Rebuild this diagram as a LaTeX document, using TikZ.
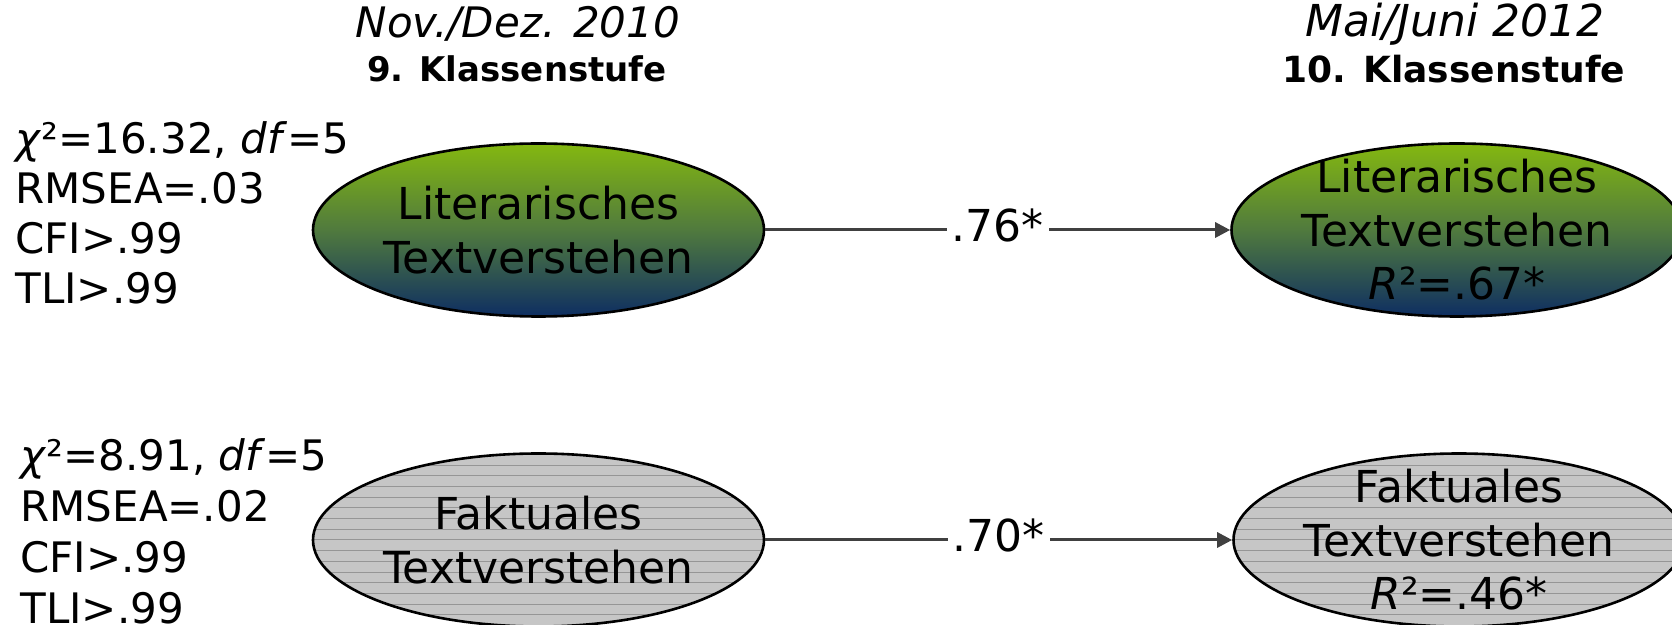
\documentclass[tikz,border=0pt]{standalone}
\usepackage{fontspec}
\setmainfont{DejaVu Sans}
\usetikzlibrary{arrows.meta,shapes.geometric}
\definecolor{gtop}{RGB}{132,184,16}
\definecolor{gmid}{RGB}{80,122,62}
\definecolor{gbot}{RGB}{14,46,98}
\definecolor{greyfill}{RGB}{198,198,198}
\definecolor{greyline}{RGB}{150,150,150}
\definecolor{arrowcol}{RGB}{64,64,64}
\begin{document}
\begin{tikzpicture}[x=0.5pt,y=-0.5pt,
  latent/.style={ellipse, draw=black, line width=1.3pt, minimum width=225.5pt,
    minimum height=86.5pt, inner sep=0pt},
  lit/.style={latent, top color=gtop, bottom color=gbot, middle color=gmid},
  fakt/.style={latent, fill=greyfill, path picture={
      \foreach \k in {-9,...,9}
        \draw[greyline, line width=0.5pt]
          ([yshift=\k*5.35pt]path picture bounding box.west) --
          ([yshift=\k*5.35pt]path picture bounding box.east);}},
  intext/.style={font=\fontsize{22pt}{26.75pt}\selectfont, align=center, inner sep=0pt},
  stats/.style={font=\fontsize{21pt}{25pt}\selectfont, align=left, anchor=north west, inner sep=0pt},
  effect/.style={draw=arrowcol, line width=1.5pt, -{Triangle[length=7.5pt,width=7.5pt]}},
  coef/.style={fill=white, font=\fontsize{22pt}{26pt}\selectfont, anchor=base,
    yshift=-6pt, inner xsep=2.5pt, inner ysep=3pt},
  hdr/.style={anchor=base, inner sep=0pt}
]
\useasboundingbox (0,0) rectangle (1672,625);
\clip (0,0) rectangle (1672,625);

% headers
\node[hdr, font=\fontsize{21pt}{25pt}\selectfont\itshape] (t1) at (518,38) {Nov./Dez. 2010};
\node[hdr, font=\fontsize{17pt}{20pt}\selectfont\bfseries] (k1) at (517,82) {9. Klassenstufe};
\node[hdr, font=\fontsize{22pt}{25pt}\selectfont\itshape] (t2) at (1455,37) {Mai/Juni 2012};
\node[hdr, font=\fontsize{18pt}{20pt}\selectfont\bfseries] (k2) at (1454,83) {10. Klassenstufe};

% fit statistics
\node[stats] (fit1) at (15,121) {\textit{χ}²=16.32, \textit{df}=5\\RMSEA=.03\\CFI>.99\\TLI>.99};
\node[stats, font=\fontsize{21pt}{25.5pt}\selectfont] (fit2) at (20,438) {\textit{χ}²=8.91, \textit{df}=5\\RMSEA=.02\\CFI>.99\\TLI>.99};

% latent variables
\node[lit] (L1) at (538.5,230) {};
\node[lit] (R1) at (1457,230) {};
\node[fakt] (L2) at (538.5,540) {};
\node[fakt] (R2) at (1459,540) {};

\node[intext] (L1t) at (L1.center) {Literarisches\\Textverstehen};
\node[intext] (R1t) at (R1.center) {Literarisches\\Textverstehen\\\textit{R}²=.67*};
\node[intext] (L2t) at (L2.center) {Faktuales\\Textverstehen};
\node[intext] (R2t) at (R2.center) {Faktuales\\Textverstehen\\\textit{R}²=.46*};

% paths
\draw[effect] (L1) -- node[coef, midway] (c1) {.76*} (R1);
\draw[effect] (L2) -- node[coef, midway] (c2) {.70*} (R2);
\end{tikzpicture}
\end{document}
